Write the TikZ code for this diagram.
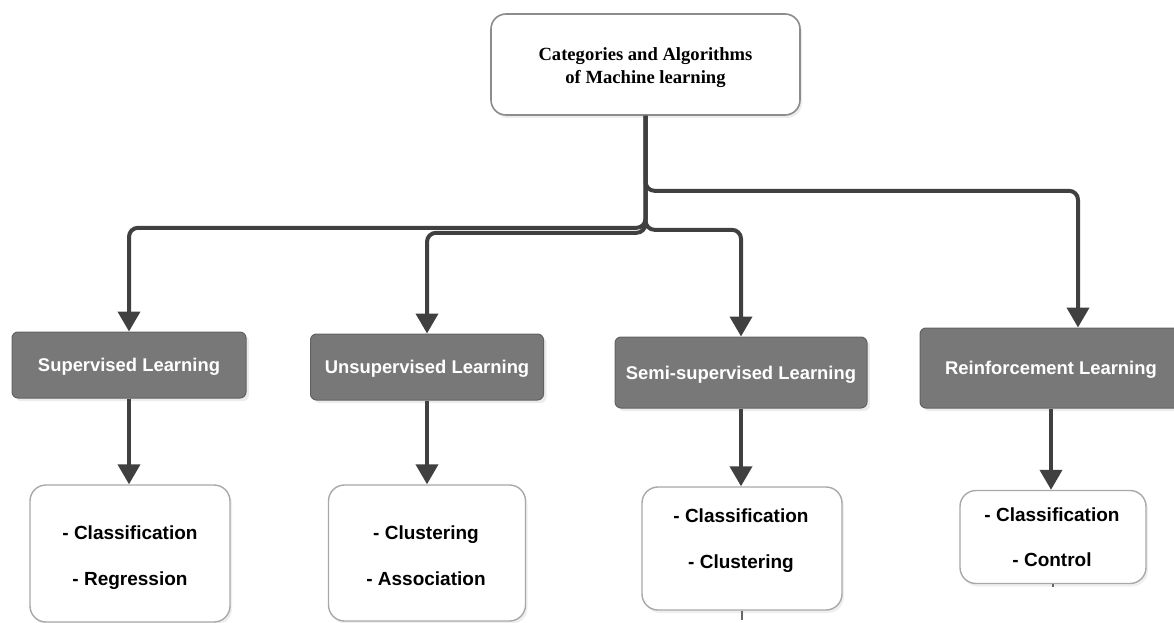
\documentclass[tikz,border=0pt]{standalone}
\usepackage{fontspec}
\setmainfont{Liberation Serif}
\setsansfont{Liberation Sans}
\usetikzlibrary{arrows.meta,shadows,calc}
\definecolor{connc}{HTML}{404040}
\definecolor{hdrfill}{HTML}{787878}
\definecolor{hdrdraw}{HTML}{626262}
\definecolor{boxdraw}{HTML}{A8A8A8}
\definecolor{topdraw}{HTML}{8C8C8C}
\begin{document}
\begin{tikzpicture}[x=1pt,y=-1pt,
  topbox/.style={draw=topdraw, line width=1.6pt, fill=white, rounded corners=15pt,
    minimum width=309pt, minimum height=101pt, inner sep=0pt,
    drop shadow={shadow xshift=2pt, shadow yshift=-3pt, fill=black!15}},
  toptxt/.style={inner sep=0pt, align=center, font=\bfseries\fontsize{18.6}{23}\selectfont},
  hdr/.style={draw=hdrdraw, line width=1pt, fill=hdrfill, rounded corners=6pt,
    inner sep=0pt, text=white, text depth=0pt, font=\sffamily\bfseries\fontsize{18.4}{22}\selectfont,
    drop shadow={shadow xshift=3pt, shadow yshift=-3pt, fill=black!15}},
  itembox/.style={draw=boxdraw, line width=1.4pt, fill=white, rounded corners=16pt,
    inner sep=0pt,
    drop shadow={shadow xshift=2pt, shadow yshift=-3pt, fill=black!12}},
  itm/.style={font=\sffamily\bfseries\fontsize{19}{22}\selectfont, anchor=base, inner sep=0pt},
  conn/.style={draw=connc, line width=4pt, rounded corners=9pt,
    -{Triangle[width=22pt,length=20pt]}},
  stub/.style={draw=black!60, line width=1.6pt},
]
\useasboundingbox (0,0) rectangle (1174,623);

\node[topbox] (top) at (645.5,64.5) {};
\node[toptxt] (toptext) at (645.5,67.5) {Categories and Algorithms\\of Machine learning};

\node[hdr, minimum width=234pt, minimum height=66pt] (sup) at (129,365) {Supervised Learning};
\node[hdr, minimum width=233pt, minimum height=66pt] (uns) at (427,367) {Unsupervised Learning};
\node[hdr, minimum width=252pt, minimum height=71pt] (semi) at (741,372.5) {Semi-supervised Learning};
\node[hdr, minimum width=262pt, minimum height=80pt] (rein) at (1051,368) {Reinforcement Learning};

\node[itembox, minimum width=200pt, minimum height=137pt] (supb) at (130,553.5) {};
\node[itembox, minimum width=197pt, minimum height=136pt] (unsb) at (427,553) {};
\node[itembox, minimum width=200pt, minimum height=123pt] (semib) at (742,548.5) {};
\node[itembox, minimum width=186pt, minimum height=93pt] (reinb) at (1053,537) {};

\node[itm] (sup1) at (130,539) {- Classification};
\node[itm] (sup2) at (130,585) {- Regression};
\node[itm] (uns1) at (426,539) {- Clustering};
\node[itm] (uns2) at (426,585) {- Association};
\node[itm] (semi1) at (741,522) {- Classification};
\node[itm] (semi2) at (741,568) {- Clustering};
\node[itm] (rein1) at (1052,521) {- Classification};
\node[itm] (rein2) at (1052,566) {- Control};

\draw[conn] (top.south) -- ++(0,112) -| (sup.north);
\draw[conn] (top.south) -- ++(0,117) -| (uns.north);
\draw[conn] (top.south) -- ++(0,114) -| (semi.north);
\draw[conn] (top.south) -- ++(0,75) -| ([xshift=27pt]rein.north);

\draw[conn] (sup.south) -- (sup.south |- supb.north);
\draw[conn] (uns.south) -- (uns.south |- unsb.north);
\draw[conn] (semi.south) -- (semi.south |- semib.north);
\draw[conn] (rein.south) -- (rein.south |- reinb.north);

\draw[stub] (semib.south) -- ++(0,9);
\draw[stub] (reinb.south) -- ++(0,3);
\end{tikzpicture}
\end{document}
